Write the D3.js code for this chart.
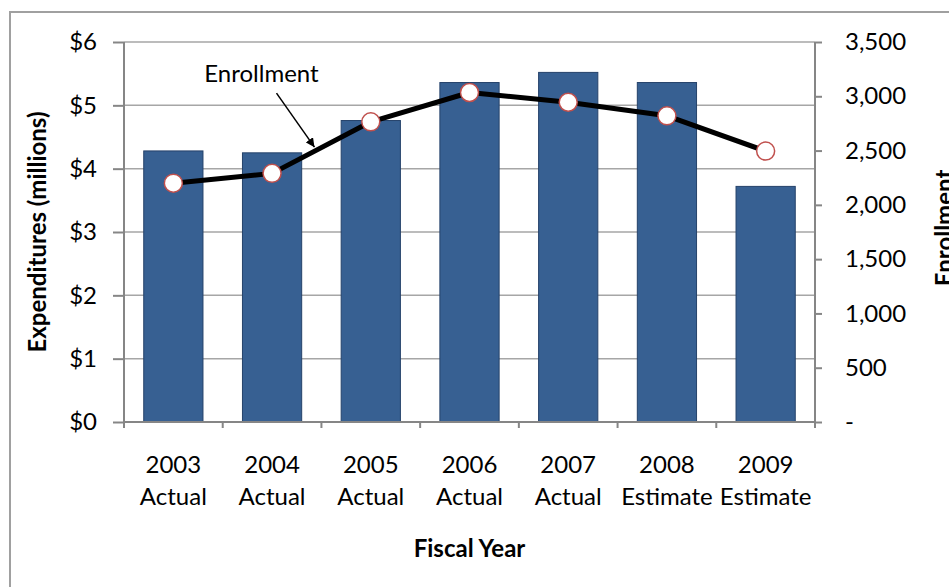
<!DOCTYPE html>
<html>
<head>
<meta charset="utf-8">
<script src="https://cdn.jsdelivr.net/npm/d3@7"></script>
<style>
  body { margin: 0; background: #fff; }
  text { font-family: Lato, "Open Sans", sans-serif; fill: #000; }
  .axis path, .axis line { stroke: #868686; stroke-width: 2; }
  .axis text { font-size: 24px; }
  .grid line { stroke: #a6a6a6; stroke-width: 1.5; }
  .axis-title { font-size: 24px; font-weight: bold; }
</style>
</head>
<body>
<div id="chart-area"></div>
<script>
// data
var years = ["2003", "2004", "2005", "2006", "2007", "2008", "2009"];
var yearStatus = ["Actual", "Actual", "Actual", "Actual", "Actual", "Estimate", "Estimate"];
var expenditures = [4.28, 4.25, 4.76, 5.36, 5.52, 5.36, 3.72];
var enrollment = [2200, 2290, 2765, 3035, 2945, 2820, 2495];
var leftTicks = [0, 1, 2, 3, 4, 5, 6];
var rightTicks = [0, 500, 1000, 1500, 2000, 2500, 3000, 3500];

var W = 949, H = 587;
var margin = { left: 124, right: 134, top: 42, bottom: 165 },
  width = W - margin.left - margin.right,
  height = H - margin.top - margin.bottom;

var svg = d3.select("#chart-area").append("svg")
  .attr("width", W)
  .attr("height", H);

// chart border (cropped at right / bottom)
svg.append("rect")
  .attr("x", 10).attr("y", 12)
  .attr("width", W + 20).attr("height", H + 20)
  .attr("fill", "none")
  .attr("stroke", "#a0a0a0")
  .attr("stroke-width", 2);

var g = svg.append("g")
  .attr("transform", "translate(" + margin.left + "," + margin.top + ")");

var x = d3.scaleBand().domain(years).range([0, width]).paddingInner(0.4).paddingOuter(0.2);
var xb = d3.scaleBand().domain(years).range([0, width]);
var y = d3.scaleLinear().domain([0, 6]).range([height, 0]);
var y2 = d3.scaleLinear().domain([0, 3500]).range([height, 0]);

// gridlines
g.append("g").attr("class", "grid")
  .selectAll("line").data(leftTicks.filter(function(d) { return d > 0; }))
  .enter().append("line")
  .attr("x1", 0).attr("x2", width)
  .attr("y1", function(d) { return y(d); })
  .attr("y2", function(d) { return y(d); });

// bars
g.selectAll("rect.bar").data(expenditures)
  .enter().append("rect")
  .attr("class", "bar")
  .attr("x", function(d, i) { return x(years[i]); })
  .attr("y", function(d) { return y(d); })
  .attr("width", x.bandwidth())
  .attr("height", function(d) { return height - y(d); })
  .attr("fill", "#376092")
  .attr("stroke", "#25426a")
  .attr("stroke-width", 1);

// axes
var yAxisCall = d3.axisLeft(y).tickValues(leftTicks)
  .tickSize(11).tickPadding(16)
  .tickFormat(function(d) { return "$" + d; });
var yAxis = g.append("g").attr("class", "axis").call(yAxisCall);
yAxis.select(".domain").attr("d", "M0," + (height + 6) + "V0");

var y2AxisCall = d3.axisRight(y2).tickValues(rightTicks)
  .tickSize(7).tickPadding(23)
  .tickFormat(function(d) { return d === 0 ? "-" : d3.format(",")(d); });
var y2Axis = g.append("g").attr("class", "axis")
  .attr("transform", "translate(" + width + ",0)")
  .call(y2AxisCall);
y2Axis.select(".domain").attr("d", "M0," + (height + 6) + "V0");

var xAxis = g.append("g").attr("class", "axis")
  .attr("transform", "translate(0," + height + ")");
xAxis.append("line").attr("x1", 0).attr("x2", width);
xAxis.selectAll("line.tk").data(years.concat(["end"]))
  .enter().append("line")
  .attr("x1", function(d, i) { return i * xb.bandwidth(); })
  .attr("x2", function(d, i) { return i * xb.bandwidth(); })
  .attr("y1", 0).attr("y2", 6);
var lbl = xAxis.selectAll("text.cat").data(years)
  .enter().append("text")
  .attr("class", "cat")
  .attr("text-anchor", "middle");
lbl.append("tspan").attr("x", function(d) { return xb(d) + xb.bandwidth() / 2; })
  .attr("y", 51).text(function(d) { return d; });
lbl.append("tspan").attr("x", function(d) { return xb(d) + xb.bandwidth() / 2; })
  .attr("y", 83).text(function(d, i) { return yearStatus[i]; });

// enrollment line
var cx = function(i) { return xb(years[i]) + xb.bandwidth() / 2; };
var line = d3.line()
  .x(function(d, i) { return cx(i); })
  .y(function(d) { return y2(d); });
g.append("path")
  .datum(enrollment)
  .attr("d", line)
  .attr("fill", "none")
  .attr("stroke", "#000")
  .attr("stroke-width", 5)
  .attr("stroke-linejoin", "round");
g.selectAll("circle").data(enrollment)
  .enter().append("circle")
  .attr("cx", function(d, i) { return cx(i); })
  .attr("cy", function(d) { return y2(d); })
  .attr("r", 9)
  .attr("fill", "#fff")
  .attr("stroke", "#c0504d")
  .attr("stroke-width", 1.5);

// annotation arrow
svg.append("defs").append("marker")
  .attr("id", "arrow")
  .attr("viewBox", "0 0 10 10")
  .attr("refX", 10).attr("refY", 5)
  .attr("markerWidth", 9).attr("markerHeight", 9)
  .attr("markerUnits", "userSpaceOnUse")
  .attr("orient", "auto")
  .append("path").attr("d", "M0,0L10,5L0,10Z").attr("fill", "#000");

var t = 0.45;
var ax = cx(1) + t * (cx(2) - cx(1)),
  ay = y2(enrollment[1]) + t * (y2(enrollment[2]) - y2(enrollment[1]));
g.append("line")
  .attr("x1", ax - 40).attr("y1", ay - 57)
  .attr("x2", ax - 2).attr("y2", ay - 3)
  .attr("stroke", "#000")
  .attr("stroke-width", 1.5)
  .attr("marker-end", "url(#arrow)");
g.append("text")
  .attr("x", ax - 55).attr("y", ay - 68)
  .attr("text-anchor", "middle")
  .attr("font-size", "24px")
  .text("Enrollment");

// axis titles
svg.append("text")
  .attr("class", "axis-title")
  .attr("transform", "rotate(-90)")
  .attr("x", -(margin.top + height / 2))
  .attr("y", 46)
  .attr("text-anchor", "middle")
  .text("Expenditures (millions)");

svg.append("text")
  .attr("class", "axis-title")
  .attr("transform", "rotate(-90)")
  .attr("x", -(margin.top + height / 2) + 4)
  .attr("y", 953)
  .attr("text-anchor", "middle")
  .text("Enrollment");

svg.append("text")
  .attr("class", "axis-title")
  .attr("x", margin.left + width / 2)
  .attr("y", 557)
  .attr("text-anchor", "middle")
  .text("Fiscal Year");
</script>
</body>
</html>
